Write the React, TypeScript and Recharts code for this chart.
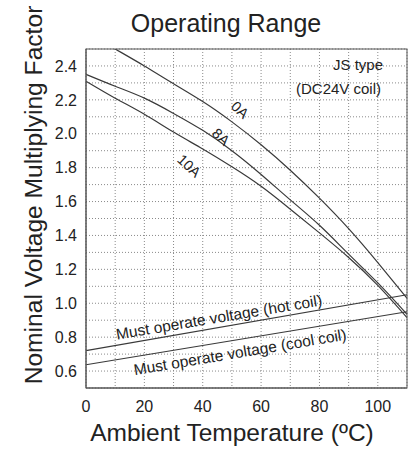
import { LineChart, Line, XAxis, YAxis, CartesianGrid } from 'recharts'

// temperatura ambiente (ºC)
const TEMPS = [0, 10, 20, 30, 40, 50, 60, 70, 80, 90, 100, 110]
// fator de tensão nominal por corrente de contato
const CURVA_0A = [2.6, 2.5, 2.4, 2.295, 2.19, 2.07, 1.935, 1.785, 1.62, 1.44, 1.24, 1.03]
const CURVA_8A = [2.35, 2.28, 2.21, 2.12, 2.02, 1.9, 1.76, 1.61, 1.46, 1.29, 1.12, 0.935]
const CURVA_10A = [2.31, 2.21, 2.115, 2.01, 1.91, 1.805, 1.69, 1.555, 1.415, 1.27, 1.105, 0.915]

// tensão mínima de operação (retas, só as pontas)
const TEMPS_RETA = [0, 110]
const BOBINA_QUENTE = [0.72, 1.05]
const BOBINA_FRIA = [0.637, 0.95]

const TICKS_X = [0, 10, 20, 30, 40, 50, 60, 70, 80, 90, 100, 110]
const TICKS_Y = [0.5, 0.6, 0.7, 0.8, 0.9, 1.0, 1.1, 1.2, 1.3, 1.4, 1.5, 1.6, 1.7, 1.8, 1.9, 2.0, 2.1, 2.2, 2.3, 2.4, 2.5]

const dados = TEMPS.map((t, i) => ({ t, a0: CURVA_0A[i], a8: CURVA_8A[i], a10: CURVA_10A[i] }))
const quente = TEMPS_RETA.map((t, i) => ({ t, v: BOBINA_QUENTE[i] }))
const fria = TEMPS_RETA.map((t, i) => ({ t, v: BOBINA_FRIA[i] }))

const FONTE = '"Liberation Sans", Arial, sans-serif'
const COR_LINHA = '#3a3a3a'

const fmtX = (v: number) => (v % 20 === 0 && v <= 100 ? String(v) : '')
const fmtY = (v: number) => {
  const d = Math.round(v * 10)
  return d % 2 === 0 && d >= 6 && d <= 24 ? v.toFixed(1) : ''
}

const serie = { stroke: COR_LINHA, strokeWidth: 1.2, dot: false, isAnimationActive: false } as const

export default function App() {
  return (
    <div style={{ position: 'absolute', left: 0, top: 0, width: 413, height: 449, background: '#fff', fontFamily: FONTE }}>
      <LineChart width={413} height={449} margin={{ top: 49, right: 6, bottom: 0, left: 0 }}>
        <CartesianGrid stroke="#8a8a8a" strokeDasharray="1 2" />
        <XAxis
          dataKey="t"
          type="number"
          domain={[0, 110]}
          ticks={TICKS_X}
          tickFormatter={fmtX}
          interval={0}
          allowDuplicatedCategory={false}
          height={61}
          tickLine={false}
          tickMargin={7}
          stroke="#555"
          tick={{ fill: '#222', fontSize: 16, fontFamily: FONTE }}
        />
        <YAxis
          type="number"
          domain={[0.5, 2.5]}
          ticks={TICKS_Y}
          tickFormatter={fmtY}
          interval={0}
          allowDataOverflow
          width={86}
          tickLine={false}
          tickMargin={3}
          stroke="#555"
          tick={{ fill: '#222', fontSize: 16, fontFamily: FONTE }}
        />
        <Line data={dados} dataKey="a0" type="natural" {...serie} />
        <Line data={dados} dataKey="a8" type="natural" {...serie} />
        <Line data={dados} dataKey="a10" type="natural" {...serie} />
        <Line data={quente} dataKey="v" type="linear" {...serie} />
        <Line data={fria} dataKey="v" type="linear" {...serie} />
      </LineChart>

      {/* textos por cima do gráfico */}
      <svg width={413} height={449} style={{ position: 'absolute', left: 0, top: 0, pointerEvents: 'none' }} fontFamily={FONTE} fill="#222">
        <rect x={86} y={49} width={321} height={339} fill="none" stroke="#555" />
        <text x={226} y={32} fontSize={25} textAnchor="middle">Operating Range</text>
        <text x={42} y={195} fontSize={24.6} textAnchor="middle" transform="rotate(-90 42 195)">
          Nominal Voltage Multiplying Factor
        </text>
        <text x={232} y={441} fontSize={24.5} textAnchor="middle">Ambient Temperature (ºC)</text>
        <text x={383} y={64} fontSize={15} textAnchor="end" dominantBaseline="central">JS type</text>
        <text x={381} y={88} fontSize={15} textAnchor="end" dominantBaseline="central">(DC24V coil)</text>
        <text x={240} y={110} fontSize={14.5} textAnchor="middle" dominantBaseline="central" transform="rotate(43 240 110)">0A</text>
        <text x={221} y={137} fontSize={14.5} textAnchor="middle" dominantBaseline="central" transform="rotate(43 221 137)">8A</text>
        <text x={189} y={166} fontSize={14.5} textAnchor="middle" dominantBaseline="central" transform="rotate(43 189 166)">10A</text>
        <text x={219} y={317} fontSize={15.5} textAnchor="middle" dominantBaseline="central" transform="rotate(-9.5 219 317)">
          Must operate voltage (hot coil)
        </text>
        <text x={240} y={352} fontSize={15.5} textAnchor="middle" dominantBaseline="central" transform="rotate(-9.5 240 352)">
          Must operate voltage (cool coil)
        </text>
      </svg>
    </div>
  )
}
